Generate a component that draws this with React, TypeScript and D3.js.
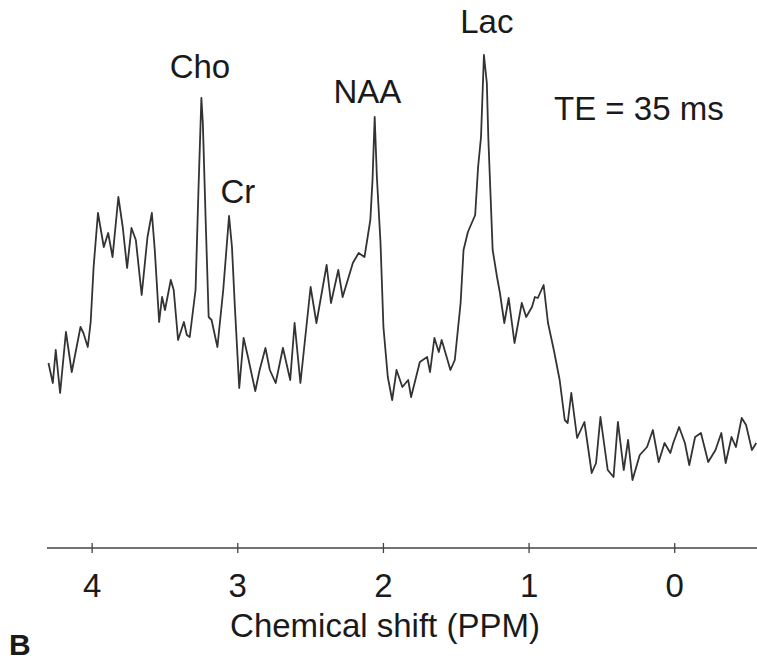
import React, { useEffect, useRef } from "react";
import * as d3 from "d3";

// MR spectrum, TE = 35 ms. ppm on a reversed x axis, intensity in arbitrary units
const ppm = [
  4.30, 4.27, 4.25, 4.22, 4.18, 4.14, 4.08, 4.06, 4.03, 4.01, 3.99, 3.96, 3.92, 3.89, 3.86,
  3.82, 3.79, 3.76, 3.73, 3.70, 3.66, 3.62, 3.59, 3.57, 3.54, 3.52, 3.50, 3.46, 3.44, 3.41,
  3.37, 3.35, 3.33, 3.29, 3.27, 3.25, 3.24, 3.22, 3.20, 3.18, 3.14, 3.10, 3.06, 3.04, 3.02,
  2.99, 2.96, 2.93, 2.88, 2.85, 2.81, 2.78, 2.74, 2.69, 2.64, 2.61, 2.57, 2.50, 2.46, 2.39,
  2.36, 2.31, 2.28, 2.21, 2.17, 2.13, 2.09, 2.075, 2.06, 2.045, 2.02, 2.00, 1.97, 1.94, 1.91,
  1.87, 1.83, 1.81, 1.75, 1.70, 1.68, 1.65, 1.62, 1.60, 1.54, 1.51, 1.47, 1.45, 1.42, 1.37,
  1.35, 1.33, 1.31, 1.29, 1.28, 1.25, 1.22, 1.20, 1.17, 1.14, 1.10, 1.05, 1.02, 0.98, 0.96,
  0.94, 0.90, 0.87, 0.83, 0.79, 0.755, 0.735, 0.71, 0.67, 0.62, 0.57, 0.54, 0.51, 0.46, 0.42,
  0.39, 0.35, 0.32, 0.29, 0.24, 0.19, 0.15, 0.11, 0.07, 0.03, 0.01, -0.03, -0.07, -0.10, -0.14,
  -0.18, -0.23, -0.28, -0.32, -0.35, -0.39, -0.42, -0.46, -0.49, -0.53, -0.56,
];
const intensity = [
  37.0, 33.0, 39.6, 31.0, 43.2, 35.2, 44.2, 43.0, 40.2, 45.2, 56.2, 67.0, 60.2, 63.0, 58.2,
  70.2, 64.2, 56.0, 64.0, 61.6, 50.6, 62.2, 67.0, 59.6, 45.2, 50.2, 47.6, 53.6, 51.6, 41.6,
  45.2, 42.6, 42.2, 51.6, 71.6, 90.0, 85.0, 65.0, 46.2, 45.6, 40.2, 51.6, 66.4, 60.2, 48.2,
  32.0, 42.0, 38.2, 31.4, 35.6, 40.0, 35.6, 33.0, 40.0, 33.6, 45.0, 33.0, 52.2, 45.0, 56.6,
  49.0, 55.6, 50.2, 57.0, 59.0, 58.2, 65.6, 73.6, 86.2, 74.2, 61.0, 44.2, 34.2, 29.6, 35.6,
  32.2, 33.6, 30.2, 37.2, 38.2, 35.2, 42.0, 39.2, 41.6, 35.6, 37.6, 49.0, 59.6, 63.2, 66.6,
  76.2, 82.2, 98.6, 93.0, 82.2, 59.6, 54.2, 51.0, 45.0, 50.0, 41.0, 49.0, 46.2, 48.2, 50.2,
  50.0, 52.6, 45.0, 39.6, 33.6, 25.6, 25.0, 31.0, 22.0, 25.2, 15.0, 17.0, 26.2, 15.6, 14.2,
  25.2, 15.6, 21.6, 13.6, 18.6, 20.2, 23.6, 17.2, 21.0, 19.0, 21.0, 24.2, 21.0, 16.6, 22.2,
  23.0, 17.2, 19.6, 23.0, 17.0, 22.2, 20.2, 26.0, 24.6, 19.6, 21.0,
];
const ppmTicks = [4, 3, 2, 1, 0];
const peakNames = ["Cho", "Cr", "NAA", "Lac"];
const peakPpm = [3.26, 3.00, 2.11, 1.29];
const peakLabelLevel = [94, 69, 89, 103];

const W = 757;
const H = 660;

function Spectrum() {
  const ref = useRef<SVGSVGElement>(null);

  useEffect(() => {
    const svg = d3.select(ref.current);
    svg.selectAll("*").remove();

    const axisY = 548;
    const x = d3.scaleLinear().domain([4.31, -0.565]).range([47, 757]);
    const y = d3.scaleLinear().domain([0, 100]).range([axisY, 48]);
    const font = "'Liberation Sans', Arial, Helvetica, sans-serif";

    const pts = ppm.map((p, i) => [p, intensity[i]] as [number, number]);
    const line = d3
      .line<[number, number]>()
      .x((d) => x(d[0]))
      .y((d) => y(d[1]));

    svg
      .append("path")
      .attr("d", line(pts))
      .attr("fill", "none")
      .attr("stroke", "#333")
      .attr("stroke-width", 1.8)
      .attr("stroke-linejoin", "round");

    // axis: plain line with ticks crossing it
    svg
      .append("line")
      .attr("x1", x.range()[0])
      .attr("x2", x.range()[1])
      .attr("y1", axisY)
      .attr("y2", axisY)
      .attr("stroke", "#444")
      .attr("stroke-width", 1.5);

    const tk = svg.selectAll("g.tick").data(ppmTicks).enter().append("g").attr("class", "tick");
    tk.append("line")
      .attr("x1", (d) => x(d))
      .attr("x2", (d) => x(d))
      .attr("y1", axisY - 5)
      .attr("y2", axisY + 5)
      .attr("stroke", "#444")
      .attr("stroke-width", 1.3);
    tk.append("text")
      .attr("x", (d) => x(d))
      .attr("y", axisY + 49)
      .attr("text-anchor", "middle")
      .attr("font-family", font)
      .attr("font-size", 33)
      .attr("fill", "#1a1a1a")
      .text((d) => d);

    svg
      .append("text")
      .attr("x", 385)
      .attr("y", 637)
      .attr("text-anchor", "middle")
      .attr("font-family", font)
      .attr("font-size", 33)
      .attr("fill", "#1a1a1a")
      .text("Chemical shift (PPM)");

    svg
      .append("text")
      .attr("x", 9)
      .attr("y", 655)
      .attr("font-family", font)
      .attr("font-size", 30)
      .attr("font-weight", "bold")
      .attr("fill", "#1a1a1a")
      .text("B");

    peakNames.forEach((name, i) => {
      svg
        .append("text")
        .attr("x", x(peakPpm[i]))
        .attr("y", y(peakLabelLevel[i]))
        .attr("text-anchor", "middle")
        .attr("font-family", font)
        .attr("font-size", 33)
        .attr("fill", "#1a1a1a")
        .text(name);
    });

    svg
      .append("text")
      .attr("x", 554)
      .attr("y", 120)
      .attr("font-family", font)
      .attr("font-size", 33)
      .attr("fill", "#1a1a1a")
      .text("TE = 35 ms");
  }, []);

  return <svg ref={ref} width={W} height={H} style={{ display: "block", background: "#fff" }} />;
}

export default function App() {
  return (
    <div style={{ position: "absolute", left: 0, top: 0 }}>
      <Spectrum />
    </div>
  );
}
